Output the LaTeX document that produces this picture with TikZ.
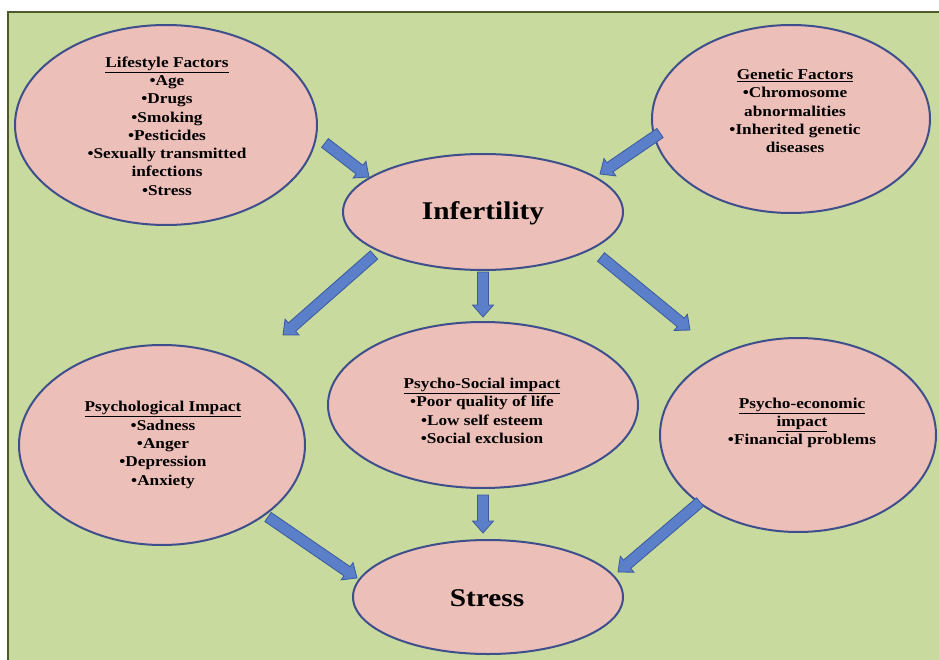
\documentclass[tikz,border=0pt]{standalone}
\usepackage{fontspec}
\setmainfont[FakeStretch=1.15]{Liberation Serif}
\usetikzlibrary{shapes.geometric,calc}
\definecolor{bggreen}{HTML}{C8DA9E}
\definecolor{bgline}{HTML}{4F5A2A}
\definecolor{ellfill}{HTML}{ECBFB9}
\definecolor{ellline}{HTML}{3E4F8C}
\definecolor{arrfill}{HTML}{5B7FC8}
\definecolor{arrline}{HTML}{3A5A9E}
\tikzset{
  bubble/.style={ellipse, draw=ellline, line width=2pt, fill=ellfill, inner sep=0pt},
  txt/.style={align=center, font=\bfseries\fontsize{15}{18.3}\selectfont, inner sep=0pt, text=black},
  bigtxt/.style={font=\bfseries\fontsize{25.5}{30}\selectfont, inner sep=0pt, text=black},
  blockarrow/.style={fill=arrfill, draw=arrline, line width=0.8pt, line join=miter}
}
\newcommand\barrow[2]{%
  \coordinate (#1h) at ($(#2)!12pt!(#1)$);
  \draw[blockarrow] ($(#1)!5.5pt!90:(#2)$) -- ($(#1h)!5.5pt!90:(#2)$) -- ($(#1h)!10.5pt!90:(#2)$) -- (#2) -- ($(#1h)!10.5pt!-90:(#2)$) -- ($(#1h)!5.5pt!-90:(#2)$) -- ($(#1)!5.5pt!-90:(#2)$) -- cycle;}
\begin{document}
\begin{tikzpicture}[x=1pt,y=-1pt]
\useasboundingbox (0,0) rectangle (939,660);
\fill[white] (0,0) rectangle (939,660);
\draw[fill=bggreen, draw=bgline, line width=1.5pt] (8,12) rectangle (950,670);

% ellipses
\node[bubble, minimum width=302pt, minimum height=200pt] (life) at (166,125) {};
\node[bubble, minimum width=278pt, minimum height=188pt] (gene) at (791,119) {};
\node[bubble, minimum width=280pt, minimum height=116pt] (inf) at (483,212) {};
\node[bubble, minimum width=286pt, minimum height=200pt] (psy) at (162,445) {};
\node[bubble, minimum width=310pt, minimum height=166pt] (soc) at (483,405) {};
\node[bubble, minimum width=276pt, minimum height=194pt] (eco) at (798,435) {};
\node[bubble, minimum width=270pt, minimum height=114pt] (str) at (488,597) {};

% texts
\node[txt] (lifeT) at (167,126) {\underline{Lifestyle Factors}\\•Age\\•Drugs\\•Smoking\\•Pesticides\\•Sexually transmitted\\infections\\•Stress};
\node[txt] (geneT) at (795,111) {\underline{Genetic Factors}\\•Chromosome\\abnormalities\\•Inherited genetic\\diseases};
\node[bigtxt] (infT) at (483,213) {Infertility};
\node[txt] (psyT) at (163,445) {\underline{Psychological Impact}\\•Sadness\\•Anger\\•Depression\\•Anxiety};
\node[txt] (socT) at (482,411) {\underline{Psycho-Social impact}\\•Poor quality of life\\•Low self esteem\\•Social exclusion};
\node[txt] (ecoT) at (802,423) {\underline{Psycho-economic}\\\underline{impact}\\•Financial problems};
\node[bigtxt] (strT) at (487,598) {Stress};

% arrow ends
\coordinate (a1t) at (325,143); \coordinate (a1h) at (369,177);
\coordinate (a2t) at (660,133); \coordinate (a2h) at (600,174);
\coordinate (a3t) at (374,255); \coordinate (a3h) at (283,335);
\coordinate (a4t) at (483,272); \coordinate (a4h) at (483,317);
\coordinate (a5t) at (601,257); \coordinate (a5h) at (690,330);
\coordinate (a6t) at (268,517); \coordinate (a6h) at (357,578);
\coordinate (a7t) at (483,495); \coordinate (a7h) at (483,533);
\coordinate (a8t) at (700,502); \coordinate (a8h) at (618,572);

\barrow{a1t}{a1h}
\barrow{a2t}{a2h}
\barrow{a3t}{a3h}
\barrow{a4t}{a4h}
\barrow{a5t}{a5h}
\barrow{a6t}{a6h}
\barrow{a7t}{a7h}
\barrow{a8t}{a8h}
\end{tikzpicture}
\end{document}
